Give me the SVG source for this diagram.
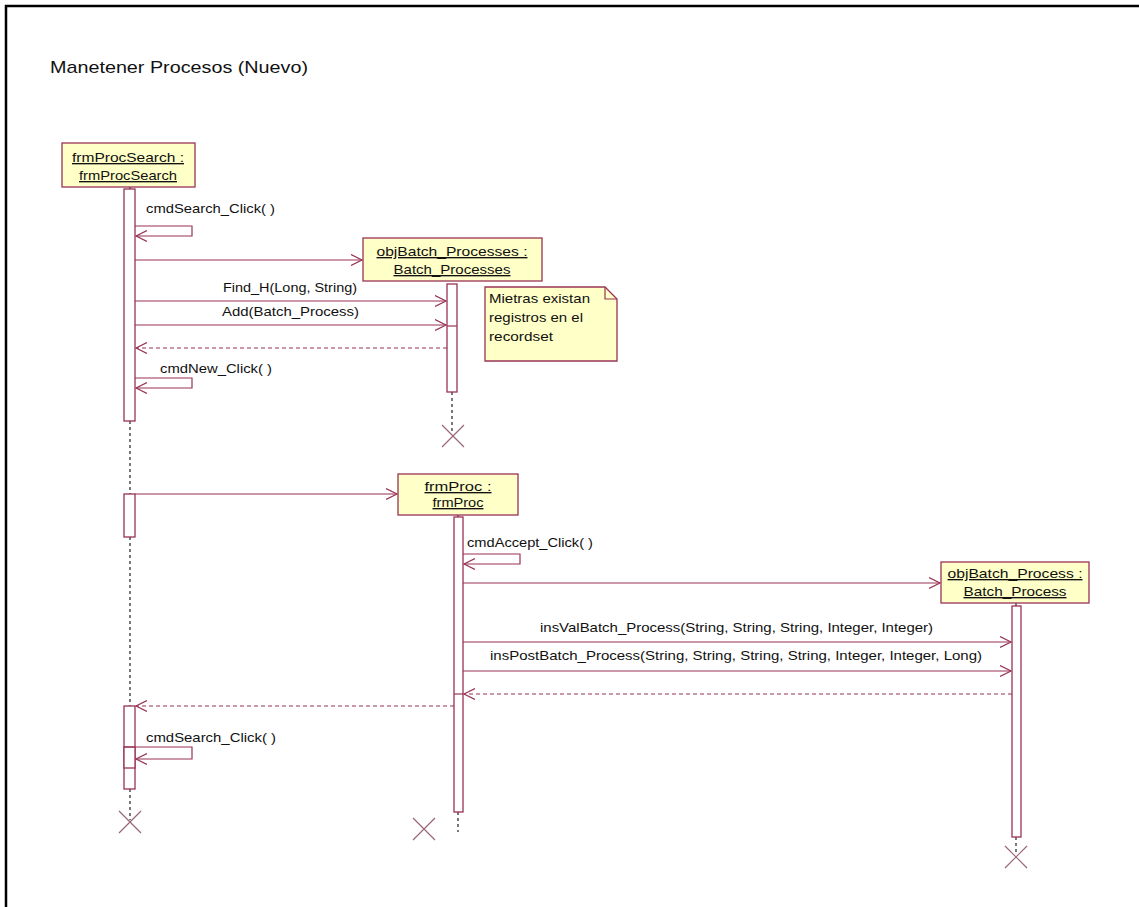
<svg xmlns="http://www.w3.org/2000/svg" width="1139" height="907" viewBox="0 0 1139 907">
  <style>
    .frame { fill: #ffffff; stroke: #000000; stroke-width: 2.5; }
    .obj { fill: #ffffc8; stroke: #993355; stroke-width: 1.3; }
    .bar { fill: #ffffff; stroke: #993355; stroke-width: 1.3; }
    .life { stroke: #222222; stroke-width: 1.2; stroke-dasharray: 3 3; fill: none; }
    .msg { stroke: #993355; stroke-width: 1.2; fill: none; }
    .ret { stroke: #993355; stroke-width: 1.2; fill: none; stroke-dasharray: 4 3; }
    .kill { stroke: #996677; stroke-width: 1.2; fill: none; }
    .t { font-family: "Liberation Sans", Arial, sans-serif; font-size: 13.5px; fill: #111111; }
    .c { text-anchor: middle; }
    .u { text-decoration: underline; }
    .title { font-family: "Liberation Sans", Arial, sans-serif; font-size: 17px; fill: #111111; }
  </style>
  <defs>
    <marker id="open" markerUnits="userSpaceOnUse" markerWidth="14" markerHeight="12" refX="11" refY="6" orient="auto">
      <path d="M0,0.5 L11,6 L0,11.5" fill="none" stroke="#993355" stroke-width="1.2"/>
    </marker>
  </defs>

  <rect class="frame" x="6" y="6" width="1145" height="915"/>
  <text class="title" x="50" y="73" textLength="258" lengthAdjust="spacingAndGlyphs">Manetener Procesos (Nuevo)</text>

  <!-- lifelines (dashed) -->
  <g id="lifelines">
    <path class="life" d="M130,187 V189 M130,421 V494 M130,537 V706 M130,789 V820"/>
    <path class="life" d="M452,392 V434"/>
    <path class="life" d="M458,515 V517 M458,812 V832"/>
    <path class="life" d="M1016,603 V606 M1016,837 V855"/>
  </g>

  <g id="frmProcSearch">
    <rect class="obj" x="62" y="143" width="133" height="44"/>
    <text class="t c u" x="128" y="162" textLength="112" lengthAdjust="spacingAndGlyphs">frmProcSearch :</text>
    <text class="t c u" x="128" y="180" textLength="98" lengthAdjust="spacingAndGlyphs">frmProcSearch</text>
    <rect class="bar" x="124" y="189" width="11" height="232"/>
    <rect class="bar" x="124" y="494" width="11" height="43"/>
    <rect class="bar" x="124" y="706" width="11" height="83"/>
    <rect class="bar" x="124" y="747" width="11" height="21"/>
    <path class="kill" d="M119,811 L141,833 M141,811 L119,833"/>
  </g>

  <g id="objBatch_Processes">
    <rect class="obj" x="363" y="238" width="179" height="43"/>
    <text class="t c u" x="452" y="256" textLength="151" lengthAdjust="spacingAndGlyphs">objBatch_Processes :</text>
    <text class="t c u" x="452" y="274" textLength="117" lengthAdjust="spacingAndGlyphs">Batch_Processes</text>
    <rect class="bar" x="447" y="284" width="10" height="108"/>
    <path class="msg" d="M447,326 H457"/>
    <path class="kill" d="M442,425 L464,447 M464,425 L442,447"/>
  </g>

  <g id="note">
    <path class="obj" d="M485,287 H605 L617,299 V361 H485 Z"/>
    <path class="msg" d="M605,287 V299 H617"/>
    <text class="t" x="489" y="303" textLength="101" lengthAdjust="spacingAndGlyphs">Mietras existan</text>
    <text class="t" x="489" y="322" textLength="94" lengthAdjust="spacingAndGlyphs">registros en el</text>
    <text class="t" x="489" y="341" textLength="64" lengthAdjust="spacingAndGlyphs">recordset</text>
  </g>

  <g id="frmProc">
    <rect class="obj" x="398" y="474" width="120" height="41"/>
    <text class="t c u" x="458" y="491" textLength="67" lengthAdjust="spacingAndGlyphs">frmProc :</text>
    <text class="t c u" x="458" y="507" textLength="51" lengthAdjust="spacingAndGlyphs">frmProc</text>
    <rect class="bar" x="454" y="517" width="9" height="295"/>
    <path class="msg" d="M454,694 H463"/>
    <path class="kill" d="M413,818 L435,840 M435,818 L413,840"/>
  </g>

  <g id="objBatch_Process">
    <rect class="obj" x="941" y="562" width="148" height="41"/>
    <text class="t c u" x="1015" y="578" textLength="135" lengthAdjust="spacingAndGlyphs">objBatch_Process :</text>
    <text class="t c u" x="1015" y="596" textLength="103" lengthAdjust="spacingAndGlyphs">Batch_Process</text>
    <rect class="bar" x="1012" y="606" width="9" height="231"/>
    <path class="kill" d="M1005,846 L1027,868 M1027,846 L1005,868"/>
  </g>

  <g id="connectors">
    <path class="msg" d="M135,226 H192 V236 H136" marker-end="url(#open)"/>
    <text class="t" x="146" y="213" textLength="129" lengthAdjust="spacingAndGlyphs">cmdSearch_Click( )</text>

    <path class="msg" d="M135,260 H362" marker-end="url(#open)"/>

    <path class="msg" d="M135,301 H446" marker-end="url(#open)"/>
    <text class="t" x="223" y="292" textLength="134" lengthAdjust="spacingAndGlyphs">Find_H(Long, String)</text>

    <path class="msg" d="M135,325 H446" marker-end="url(#open)"/>
    <text class="t" x="222" y="316" textLength="137" lengthAdjust="spacingAndGlyphs">Add(Batch_Process)</text>

    <path class="ret" d="M447,348 H136" marker-end="url(#open)"/>

    <path class="msg" d="M135,378 H192 V388 H136" marker-end="url(#open)"/>
    <text class="t" x="160" y="373" textLength="112" lengthAdjust="spacingAndGlyphs">cmdNew_Click( )</text>

    <path class="msg" d="M135,494 H397" marker-end="url(#open)"/>

    <path class="msg" d="M463,554 H520 V564 H464" marker-end="url(#open)"/>
    <text class="t" x="467" y="547" textLength="126" lengthAdjust="spacingAndGlyphs">cmdAccept_Click( )</text>

    <path class="msg" d="M463,583 H940" marker-end="url(#open)"/>

    <path class="msg" d="M463,642 H1011" marker-end="url(#open)"/>
    <text class="t" x="540" y="632" textLength="393" lengthAdjust="spacingAndGlyphs">insValBatch_Process(String, String, String, Integer, Integer)</text>

    <path class="msg" d="M463,671 H1011" marker-end="url(#open)"/>
    <text class="t" x="490" y="660" textLength="492" lengthAdjust="spacingAndGlyphs">insPostBatch_Process(String, String, String, String, Integer, Integer, Long)</text>

    <path class="ret" d="M1012,694 H464" marker-end="url(#open)"/>

    <path class="ret" d="M454,706 H136" marker-end="url(#open)"/>

    <path class="msg" d="M124,747 H192 V759 H136" marker-end="url(#open)"/>
    <text class="t" x="146" y="742" textLength="130" lengthAdjust="spacingAndGlyphs">cmdSearch_Click( )</text>
  </g>
</svg>
